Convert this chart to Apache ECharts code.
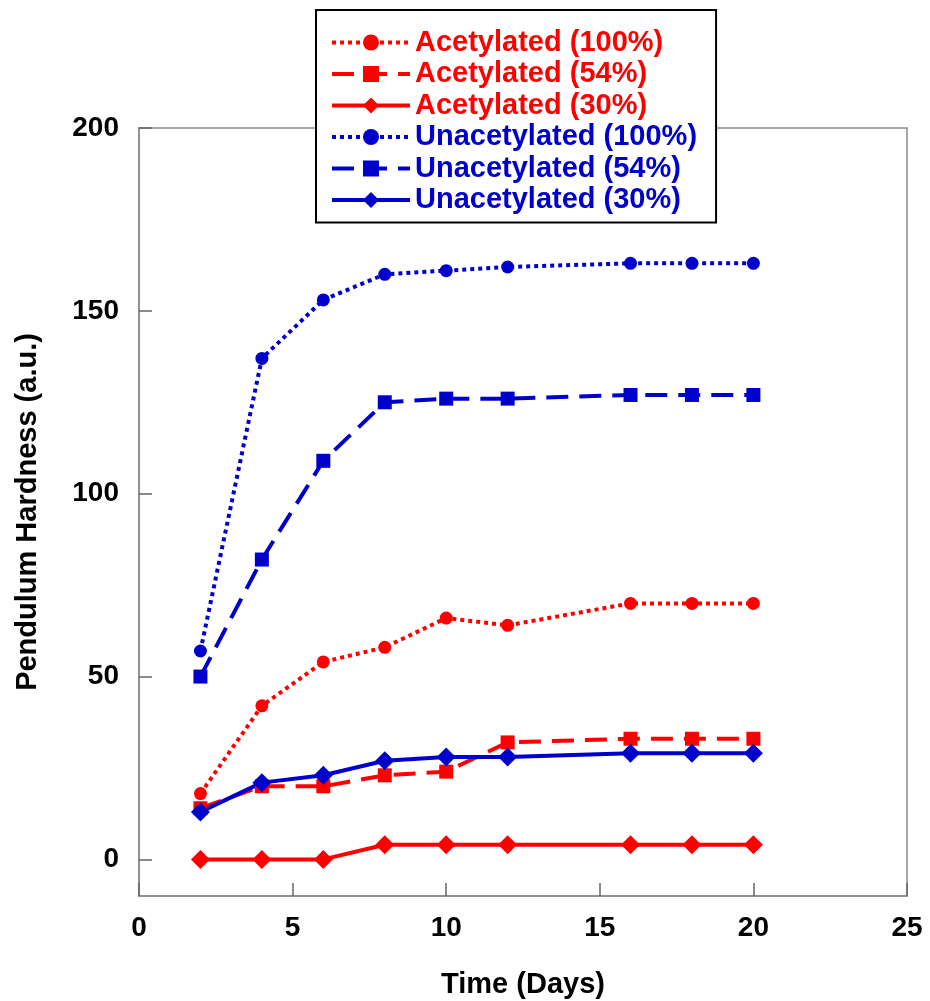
<!DOCTYPE html>
<html>
<head>
<meta charset="utf-8">
<script src="https://cdn.jsdelivr.net/npm/echarts@6/dist/echarts.min.js"></script>
<style>html,body{margin:0;padding:0;background:#fff}#c{width:930px;height:1001px}</style>
</head>
<body>
<div id="c"></div>
<script>
const days = [2, 4, 6, 8, 10, 12, 16, 18, 20];
const acet100 = [18, 42, 54, 58, 66, 64, 70, 70, 70];
const acet54 = [14, 20, 20, 23, 24, 32, 33, 33, 33];
const acet30 = [0, 0, 0, 4, 4, 4, 4, 4, 4];
const unac100 = [57, 137, 153, 160, 161, 162, 163, 163, 163];
const unac54 = [50, 82, 109, 125, 126, 126, 127, 127, 127];
const unac30 = [13, 21, 23, 27, 28, 28, 29, 29, 29];
const names = ['Acetylated (100%)', 'Acetylated (54%)', 'Acetylated (30%)',
  'Unacetylated (100%)', 'Unacetylated (54%)', 'Unacetylated (30%)'];
const yTicks = [0, 50, 100, 150, 200];

const RED = '#ff0000', BLUE = '#0000cc';
const font = '"Liberation Sans", Arial, sans-serif';

function mk(name, vals, color, kind) {
  const styles = {
    dot: { type: [4, 4], symbol: 'circle', size: 13 },
    dash: { type: [22, 11], symbol: 'rect', size: 14 },
    solid: { type: 'solid', symbol: 'diamond', size: 19 }
  };
  const s = styles[kind];
  return {
    name, type: 'line',
    data: days.map((d, i) => [d, vals[i]]),
    symbol: s.symbol, symbolSize: s.size,
    lineStyle: { color, width: 4, type: s.type },
    itemStyle: { color },
    z: 3
  };
}

const chart = echarts.init(document.getElementById('c'), null, { renderer: 'canvas' });
chart.setOption({
  animation: false,
  backgroundColor: '#fff',
  grid: { left: 139, right: 23, top: 128, bottom: 105, outerBoundsMode: 'none', containLabel: false,
    show: true, borderColor: '#8a8a8a', borderWidth: 1.5, backgroundColor: 'transparent' },
  legend: {
    orient: 'vertical', left: 316, top: 10,
    backgroundColor: '#fff', borderColor: '#000', borderWidth: 2,
    padding: [18, 19, 8, 14],
    itemWidth: 78, itemHeight: 20, itemGap: 2.5,
    lineStyle: { width: 4 },
    textStyle: { fontFamily: font, fontWeight: 'bold', fontSize: 29, lineHeight: 29 },
    data: names.map((n, i) => ({ name: n, textStyle: { color: i < 3 ? RED : BLUE } }))
  },
  xAxis: {
    type: 'value', min: 0, max: 25, interval: 5,
    name: 'Time (Days)', nameLocation: 'middle', nameGap: 74,
    nameTextStyle: { fontFamily: font, fontWeight: 'bold', fontSize: 29, color: '#000' },
    axisLine: { show: true, onZero: false, lineStyle: { color: '#8a8a8a', width: 1.5 } },
    axisTick: { show: true, inside: true, length: 13, lineStyle: { color: '#666', width: 1.5 } },
    axisLabel: { fontFamily: font, fontWeight: 'bold', fontSize: 28, color: '#000', margin: 18 },
    splitLine: { show: false }
  },
  yAxis: {
    type: 'value', min: -10, max: 200,
    name: 'Pendulum Hardness (a.u.)', nameLocation: 'middle', nameGap: 97,
    nameTextStyle: { fontFamily: font, fontWeight: 'bold', fontSize: 29, color: '#000' },
    axisLine: { show: true, onZero: false, lineStyle: { color: '#8a8a8a', width: 1.5 } },
    axisTick: { show: true, inside: true, length: 13, customValues: yTicks, lineStyle: { color: '#666', width: 1.5 } },
    axisLabel: { fontFamily: font, fontWeight: 'bold', fontSize: 28, color: '#000', margin: 20, customValues: yTicks },
    splitLine: { show: false }
  },
  series: [
    mk(names[0], acet100, RED, 'dot'),
    mk(names[1], acet54, RED, 'dash'),
    mk(names[2], acet30, RED, 'solid'),
    mk(names[3], unac100, BLUE, 'dot'),
    mk(names[4], unac54, BLUE, 'dash'),
    mk(names[5], unac30, BLUE, 'solid')
  ]
});
</script>
</body>
</html>
